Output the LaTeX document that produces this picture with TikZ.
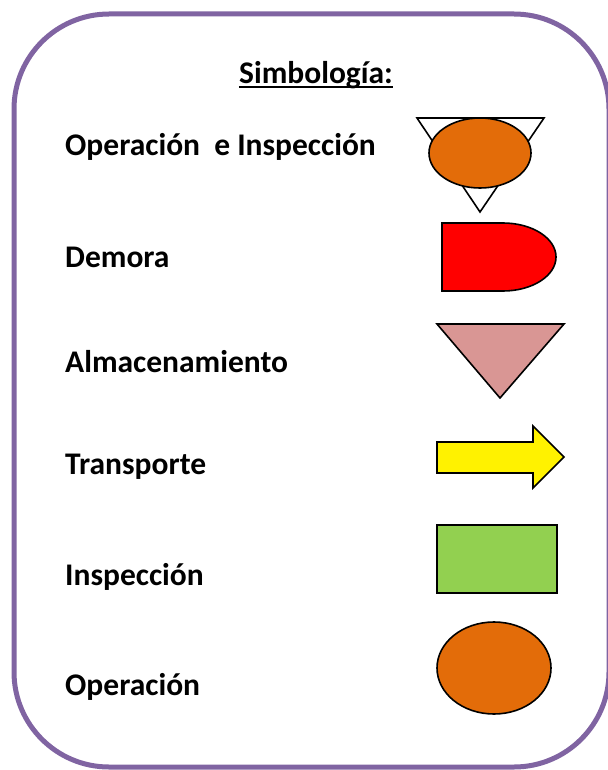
\documentclass[tikz,border=0pt]{standalone}
\usepackage{fontspec}
\setmainfont{Carlito}
\usetikzlibrary{shapes.geometric}
\definecolor{marco}{HTML}{8064A2}
\definecolor{naranja}{HTML}{E36C09}
\definecolor{rosa}{HTML}{D99694}
\definecolor{verde}{HTML}{92D050}
\begin{document}
\begin{tikzpicture}[x=1pt,y=-1pt,
	etiqueta/.style={anchor=west,inner sep=0pt,font=\fontsize{31.5}{36}\selectfont\bfseries},
	figura/.style={draw=black,line width=1.6pt,line join=miter}]
	\useasboundingbox (0,0) rectangle (607,770);
	\draw[marco,line width=5pt,rounded corners=95pt] (14,14) rectangle (609,767);
	\node[inner sep=0pt,font=\fontsize{31.5}{36}\selectfont\bfseries] (titulo) at (316,75) {Simbología:};
	\draw[line width=2.2pt] (titulo.south west) ++(0,-2) coordinate (sub1) -- (sub1 -| titulo.south east);
	\node[etiqueta] (opins) at (65,147) {Operación\ \ e Inspección};
	\node[etiqueta] (demora) at (65,257) {Demora};
	\node[etiqueta] (almac) at (65,362) {Almacenamiento};
	\node[etiqueta] (transp) at (65,467) {Transporte};
	\node[etiqueta] (insp) at (65,577) {Inspección};
	\node[etiqueta] (oper) at (65,687) {Operación};
	% operacion e inspeccion
	\draw[figura,fill=white] (417,118) -- (544,118) -- (480,212) -- cycle;
	\draw[figura,fill=naranja] (480,153) ellipse [x radius=51,y radius=35];
	% demora
	\draw[figura,fill=red] (442,223) -- (503,223) arc[start angle=-90,end angle=90,x radius=53,y radius=34] -- (442,291) -- cycle;
	% almacenamiento
	\draw[figura,fill=rosa] (437,324) -- (564,324) -- (500,398) -- cycle;
	% transporte
	\draw[figura,fill=yellow] (437,442) -- (533,442) -- (533,426) -- (564,457) -- (533,488) -- (533,473) -- (437,473) -- cycle;
	% inspeccion
	\draw[figura,fill=verde] (437,525) rectangle (557,593);
	% operacion
	\draw[figura,fill=naranja] (494,668) ellipse [x radius=57,y radius=46];
\end{tikzpicture}
\end{document}
